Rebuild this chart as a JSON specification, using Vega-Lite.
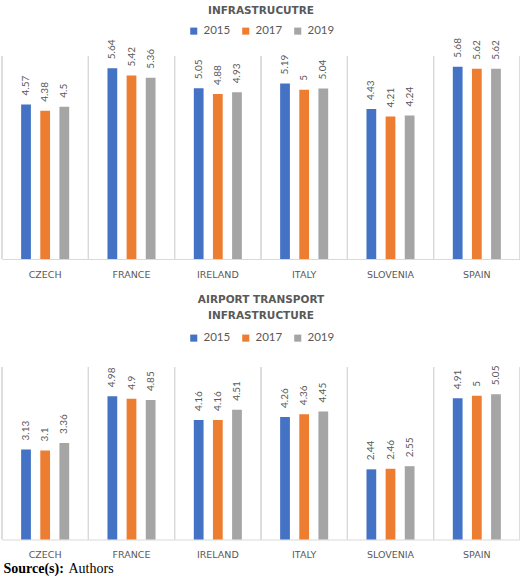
{
  "$schema": "https://vega.github.io/schema/vega-lite/v6.json",
  "background": "white",
  "padding": {"left": 1, "right": 1, "top": 5, "bottom": 0},
  "config": {
    "font": "Lato",
    "view": {"stroke": null},
    "concat": {"spacing": 15},
    "legend": {"layout": {"top": {"anchor": "middle"}}}
  },
  "title": {"text": "Source(s):", "orient": "bottom", "anchor": "start", "frame": "bounds", "font": "Liberation Serif", "fontSize": 14, "fontWeight": "bold", "color": "#000000", "offset": 0, "dx": 2, "dy": -14},
  "resolve": {"scale": {"color": "independent"}, "legend": {"color": "independent"}},
  "datasets": {
    "infra": [
      {"country": "CZECH", "year": "2015", "value": 4.57},
      {"country": "CZECH", "year": "2017", "value": 4.38},
      {"country": "CZECH", "year": "2019", "value": 4.5},
      {"country": "FRANCE", "year": "2015", "value": 5.64},
      {"country": "FRANCE", "year": "2017", "value": 5.42},
      {"country": "FRANCE", "year": "2019", "value": 5.36},
      {"country": "IRELAND", "year": "2015", "value": 5.05},
      {"country": "IRELAND", "year": "2017", "value": 4.88},
      {"country": "IRELAND", "year": "2019", "value": 4.93},
      {"country": "ITALY", "year": "2015", "value": 5.19},
      {"country": "ITALY", "year": "2017", "value": 5},
      {"country": "ITALY", "year": "2019", "value": 5.04},
      {"country": "SLOVENIA", "year": "2015", "value": 4.43},
      {"country": "SLOVENIA", "year": "2017", "value": 4.21},
      {"country": "SLOVENIA", "year": "2019", "value": 4.24},
      {"country": "SPAIN", "year": "2015", "value": 5.68},
      {"country": "SPAIN", "year": "2017", "value": 5.62},
      {"country": "SPAIN", "year": "2019", "value": 5.62}
    ],
    "airport": [
      {"country": "CZECH", "year": "2015", "value": 3.13},
      {"country": "CZECH", "year": "2017", "value": 3.1},
      {"country": "CZECH", "year": "2019", "value": 3.36},
      {"country": "FRANCE", "year": "2015", "value": 4.98},
      {"country": "FRANCE", "year": "2017", "value": 4.9},
      {"country": "FRANCE", "year": "2019", "value": 4.85},
      {"country": "IRELAND", "year": "2015", "value": 4.16},
      {"country": "IRELAND", "year": "2017", "value": 4.16},
      {"country": "IRELAND", "year": "2019", "value": 4.51},
      {"country": "ITALY", "year": "2015", "value": 4.26},
      {"country": "ITALY", "year": "2017", "value": 4.36},
      {"country": "ITALY", "year": "2019", "value": 4.45},
      {"country": "SLOVENIA", "year": "2015", "value": 2.44},
      {"country": "SLOVENIA", "year": "2017", "value": 2.46},
      {"country": "SLOVENIA", "year": "2019", "value": 2.55},
      {"country": "SPAIN", "year": "2015", "value": 4.91},
      {"country": "SPAIN", "year": "2017", "value": 5},
      {"country": "SPAIN", "year": "2019", "value": 5.05}
    ]
  },
  "vconcat": [
    {
      "data": {"name": "infra"},
      "title": {"text": "INFRASTRUCUTRE", "font": "DejaVu Sans", "fontSize": 10.5, "fontWeight": "bold", "color": "#595959", "offset": 9},
      "width": 518,
      "height": 203,
      "encoding": {
        "x": {
          "field": "country", "type": "nominal", "sort": null,
          "scale": {"paddingInner": 0, "paddingOuter": 0},
          "axis": {"title": null, "labelAngle": 0, "labelFont": "DejaVu Sans", "labelFontSize": 9.5, "labelColor": "#595959", "labelPadding": 10, "ticks": false, "domainColor": "#d9d9d9", "grid": false}
        },
        "y": {"field": "value", "type": "quantitative", "scale": {"domain": [0, 6]}, "axis": null}
      },
      "layer": [
        {
          "mark": {"type": "rule", "color": "#d9d9d9", "strokeWidth": 1},
          "encoding": {"x": {"field": "country", "type": "nominal", "bandPosition": 0}, "y": null}
        },
        {
          "transform": [{"filter": "datum.country === 'SPAIN'"}],
          "mark": {"type": "rule", "color": "#d9d9d9", "strokeWidth": 1},
          "encoding": {"x": {"field": "country", "type": "nominal", "bandPosition": 1}, "y": null}
        },
        {
          "mark": {"type": "bar"},
          "encoding": {
            "xOffset": {"field": "year", "type": "nominal", "scale": {"paddingInner": 0.49, "paddingOuter": 1.18}},
            "color": {
              "field": "year", "type": "nominal",
              "scale": {"range": ["#4472C4", "#ED7D31", "#A5A5A5"]},
              "legend": {"title": null, "orient": "top", "direction": "horizontal", "symbolType": "square", "symbolSize": 50, "symbolStrokeWidth": 0, "labelFontSize": 11.5, "labelColor": "#595959", "labelOffset": 4, "columnPadding": 9, "offset": 19}
            }
          }
        },
        {
          "mark": {"type": "text", "angle": 270, "align": "left", "baseline": "middle", "dx": 9, "fontSize": 10, "color": "#595959", "clip": false},
          "encoding": {
            "xOffset": {"field": "year", "type": "nominal"},
            "text": {"field": "value", "type": "nominal"}
          }
        }
      ]
    },
    {
      "title": {"text": "Authors", "orient": "bottom", "anchor": "start", "frame": "bounds", "font": "Liberation Serif", "fontSize": 14, "fontWeight": "normal", "color": "#000000", "offset": 3, "dx": 67},
      "resolve": {"scale": {"color": "independent"}, "legend": {"color": "independent"}},
      "vconcat": [
        {
          "data": {"name": "airport"},
          "title": {"text": ["AIRPORT TRANSPORT", "INFRASTRUCTURE"], "font": "DejaVu Sans", "fontSize": 10.5, "fontWeight": "bold", "color": "#595959", "lineHeight": 16, "offset": 11},
          "width": 518,
          "height": 172.5,
          "encoding": {
            "x": {
              "field": "country", "type": "nominal", "sort": null,
              "scale": {"paddingInner": 0, "paddingOuter": 0},
              "axis": {"title": null, "labelAngle": 0, "labelFont": "DejaVu Sans", "labelFontSize": 9.5, "labelColor": "#595959", "labelPadding": 10, "ticks": false, "domainColor": "#d9d9d9", "grid": false}
            },
            "y": {"field": "value", "type": "quantitative", "scale": {"domain": [0, 6]}, "axis": null}
          },
          "layer": [
            {
              "mark": {"type": "rule", "color": "#d9d9d9", "strokeWidth": 1},
              "encoding": {"x": {"field": "country", "type": "nominal", "bandPosition": 0}, "y": null}
            },
            {
              "transform": [{"filter": "datum.country === 'SPAIN'"}],
              "mark": {"type": "rule", "color": "#d9d9d9", "strokeWidth": 1},
              "encoding": {"x": {"field": "country", "type": "nominal", "bandPosition": 1}, "y": null}
            },
            {
              "mark": {"type": "bar"},
              "encoding": {
                "xOffset": {"field": "year", "type": "nominal", "scale": {"paddingInner": 0.49, "paddingOuter": 1.18}},
                "color": {
                  "field": "year", "type": "nominal",
                  "scale": {"range": ["#4472C4", "#ED7D31", "#A5A5A5"]},
                  "legend": {"title": null, "orient": "top", "direction": "horizontal", "symbolType": "square", "symbolSize": 50, "symbolStrokeWidth": 0, "labelFontSize": 11.5, "labelColor": "#595959", "labelOffset": 4, "columnPadding": 9, "offset": 23}
                }
              }
            },
            {
              "mark": {"type": "text", "angle": 270, "align": "left", "baseline": "middle", "dx": 9, "fontSize": 10, "color": "#595959", "clip": false},
              "encoding": {
                "xOffset": {"field": "year", "type": "nominal"},
                "text": {"field": "value", "type": "nominal"}
              }
            }
          ]
        }
      ]
    }
  ]
}
